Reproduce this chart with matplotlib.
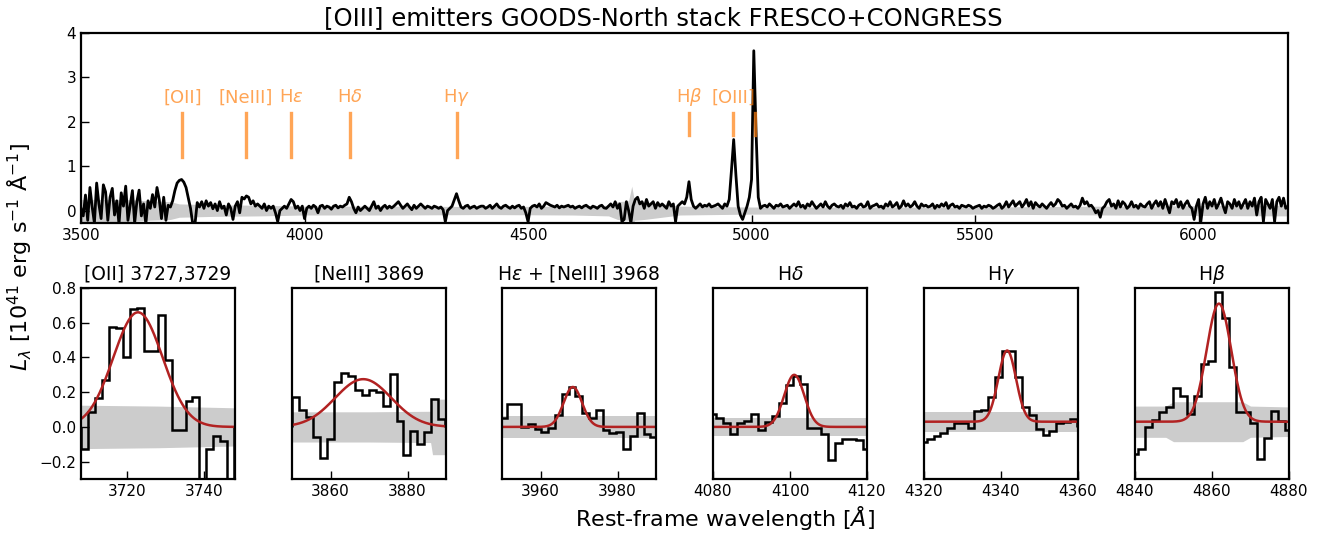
import numpy as np
import matplotlib.pyplot as plt
from matplotlib.ticker import MultipleLocator

# ---- full stacked spectrum (rest frame, 5 A sampling) ----
top_wave = np.arange(3500, 6201, 5)
top_flux = [
    0.05, -0.12, 0.35, -0.22, 0.52, 0.08, -0.28, 0.62, 0.15, -0.18, 0.58, 0.42, -0.22, 0.30, 0.50, -0.10, 0.22, -0.30, 0.40, 0.10,
    0.55, -0.22, 0.12, 0.45, -0.28, 0.20, 0.46, -0.12, 0.15, -0.30, 0.22, 0.05, 0.36, 0.08, 0.52, 0.25, -0.18, 0.30, -0.22, 0.12,
    0.08, 0.22, 0.45, 0.62, 0.68, 0.70, 0.64, 0.52, 0.28, 0.05, -0.30, -0.30, 0.18, 0.08, 0.20, 0.05, 0.22, 0.10, 0.18, 0.04,
    0.15, 0.00, 0.20, 0.05, 0.10, -0.10, 0.15, 0.05, -0.20, 0.10, 0.20, -0.05, 0.30, 0.26, 0.33, 0.30, 0.15, 0.22, 0.10, 0.15,
    0.10, 0.05, 0.15, 0.00, 0.10, 0.05, 0.10, -0.05, -0.25, 0.00, 0.05, 0.10, 0.05, 0.15, 0.25, 0.20, 0.05, 0.10, 0.00, 0.10,
    -0.18, 0.05, 0.10, 0.05, 0.12, 0.08, -0.05, 0.10, 0.12, 0.05, 0.10, 0.08, 0.03, 0.10, 0.12, 0.06, 0.10, 0.08, 0.12, 0.15,
    0.30, 0.20, 0.05, -0.05, 0.08, 0.00, 0.05, 0.10, 0.05, 0.00, 0.10, 0.20, 0.05, 0.10, 0.00, 0.08, 0.12, 0.05, 0.10, 0.06,
    0.10, 0.15, 0.20, 0.12, 0.05, 0.10, 0.15, 0.08, 0.02, 0.12, 0.05, 0.10, 0.15, 0.10, 0.05, 0.10, 0.08, 0.05, 0.10, 0.08,
    0.05, 0.08, 0.02, -0.25, 0.00, 0.05, 0.10, 0.24, 0.38, 0.22, 0.08, 0.05, 0.10, 0.12, 0.05, 0.08, 0.10, 0.05, 0.08, 0.10,
    0.10, 0.05, 0.08, 0.12, 0.05, 0.10, 0.15, 0.08, 0.05, 0.10, 0.12, 0.08, 0.05, 0.10, 0.06, 0.10, 0.12, 0.05, 0.08, -0.05,
    -0.25, 0.05, 0.10, 0.12, 0.08, 0.15, 0.05, 0.10, 0.18, 0.15, 0.12, 0.10, 0.08, 0.12, 0.06, 0.10, 0.08, 0.10, 0.12, 0.08,
    0.10, 0.05, 0.08, 0.10, 0.06, 0.10, 0.12, 0.08, 0.05, 0.10, 0.08, 0.05, 0.10, 0.12, 0.06, 0.05, 0.10, 0.15, 0.08, 0.20,
    0.05, 0.15, -0.25, -0.20, 0.20, 0.00, -0.28, 0.10, 0.25, 0.30, 0.15, 0.20, 0.05, 0.25, 0.10, 0.15, 0.20, 0.05, 0.18, 0.10,
    0.15, 0.10, 0.05, 0.20, 0.10, 0.15, -0.25, 0.10, 0.15, 0.20, 0.15, 0.30, 0.65, 0.25, 0.10, 0.05, 0.10, 0.15, 0.08, 0.12,
    0.10, 0.15, 0.08, 0.10, 0.12, 0.15, 0.10, 0.05, 0.15, 0.10, 0.25, 0.90, 1.60, 0.80, 0.10, -0.10, -0.20, -0.05, 0.10, 0.30,
    0.70, 3.60, 1.80, 0.30, 0.05, 0.10, 0.12, 0.08, 0.15, 0.10, 0.05, 0.12, 0.10, 0.15, 0.08, 0.10, 0.12, 0.05, 0.10, 0.15,
    0.10, 0.20, 0.08, 0.12, 0.05, 0.15, 0.10, 0.20, 0.12, 0.05, 0.10, 0.15, 0.08, 0.20, 0.10, 0.05, 0.12, 0.15, 0.10, 0.08,
    0.12, 0.05, 0.15, 0.10, 0.18, 0.08, 0.10, 0.05, 0.12, 0.15, 0.08, 0.10, 0.20, 0.05, 0.10, 0.12, 0.15, 0.08, 0.10, 0.05,
    0.15, 0.10, 0.20, 0.08, 0.12, 0.18, 0.05, 0.10, 0.22, 0.10, 0.15, 0.08, 0.12, 0.20, 0.10, 0.05, 0.15, 0.10, 0.12, 0.08,
    0.10, 0.15, 0.05, 0.12, 0.08, 0.15, 0.10, 0.18, 0.05, 0.12, 0.15, 0.08, 0.10, 0.05, 0.12, 0.10, 0.08, 0.12, 0.10, 0.05,
    0.08, 0.10, 0.12, 0.05, 0.10, 0.08, 0.12, 0.10, 0.05, 0.08, 0.12, 0.15, 0.05, 0.10, 0.20, 0.08, 0.15, 0.22, 0.10, 0.15,
    0.20, 0.08, 0.15, 0.25, 0.10, 0.20, 0.05, 0.18, 0.12, 0.08, 0.15, 0.10, 0.05, 0.12, 0.18, 0.10, 0.15, 0.25, 0.20, 0.10,
    0.12, 0.05, 0.10, 0.15, 0.08, 0.10, 0.05, 0.12, 0.28, 0.15, 0.20, 0.10, 0.12, 0.05, -0.05, 0.00, -0.15, 0.05, 0.10, 0.20,
    0.25, 0.10, 0.15, 0.05, 0.22, 0.08, 0.20, 0.15, 0.05, 0.10, 0.20, 0.08, 0.12, 0.05, 0.15, 0.10, 0.08, 0.15, 0.20, 0.05,
    0.15, 0.22, 0.10, 0.20, 0.05, 0.25, 0.10, -0.05, 0.20, 0.15, 0.25, 0.08, 0.20, 0.05, 0.15, 0.22, 0.10, 0.05, -0.20, 0.10,
    0.25, -0.25, 0.15, 0.30, 0.05, 0.20, 0.10, 0.25, 0.05, 0.15, 0.28, 0.10, -0.05, 0.20, 0.15, 0.05, 0.25, 0.10, 0.20, 0.05,
    0.15, 0.25, 0.05, 0.20, 0.10, 0.28, -0.10, 0.20, 0.30, -0.25, 0.25, 0.15, 0.05, 0.25, -0.25, 0.20, 0.30, 0.10, 0.28, 0.05,
    0.10,
]

# 1-sigma uncertainty of the stack
err_wave = [3500, 3550, 3600, 3650, 3700, 3720, 3800, 3900, 4000, 4200, 4400, 4600, 4680, 4700,
            4725, 4732, 4738, 4760, 4800, 4840, 5000, 5500, 5800, 6200]
err_top = [0.25, 0.25, 0.25, 0.22, 0.20, 0.15, 0.13, 0.12, 0.10, 0.10, 0.09, 0.10, 0.12, 0.20,
           0.22, 0.55, 0.22, 0.20, 0.15, 0.10, 0.08, 0.08, 0.10, 0.12]

# line markers
line_names = ['[OII]', '[NeIII]', r'H$\epsilon$', r'H$\delta$', r'H$\gamma$', r'H$\beta$', '[OIII]', '']
line_waves = [3727, 3869, 3970, 4102, 4340, 4861, 4959, 5007]
line_low = [1.2, 1.2, 1.2, 1.2, 1.2, 1.7, 1.7, 1.7]

# ---- zoom panels ----
panel_titles = ['[OII] 3727,3729', '[NeIII] 3869', r'H$\epsilon$ + [NeIII] 3968',
                r'H$\delta$', r'H$\gamma$', r'H$\beta$']
panel_xlim = [(3708, 3748), (3850, 3890), (3950, 3990), (4080, 4120), (4320, 4360), (4840, 4880)]
bin_start = [3708.0, 3850.0, 3949.6, 4079.05, 4318.93, 4839.06]
bin_width = [1.81, 1.81, 1.77, 1.81, 1.77, 1.81]
panel_flux = [
    [-0.125, 0.083, 0.166, 0.27, 0.575, 0.57, 0.40, 0.68, 0.685, 0.44, 0.44, 0.646, 0.386,
     -0.02, -0.02, 0.15, 0.17, -0.35, -0.125, -0.05, -0.08, -0.35],
    [0.174, 0.10, 0.058, -0.058, -0.18, -0.07, 0.256, 0.31, 0.295, 0.212, 0.183, 0.212, 0.20,
     0.12, 0.303, 0.035, -0.16, -0.023, -0.096, -0.03, 0.158, 0.044],
    [0.05, 0.13, 0.13, 0.0, 0.015, -0.01, -0.03, -0.005, 0.07, 0.19, 0.23, 0.18, 0.08, 0.05,
     0.10, -0.02, -0.033, -0.03, -0.13, -0.05, 0.08, -0.04, -0.06],
    [0.075, 0.05, 0.02, -0.04, 0.02, 0.035, 0.075, -0.015, 0.03, 0.06, 0.14, 0.24, 0.295, 0.25,
     -0.005, -0.005, -0.04, -0.19, -0.09, -0.07, -0.07, -0.075, -0.13],
    [-0.087, -0.067, -0.052, -0.035, -0.006, 0.025, 0.02, -0.004, 0.093, 0.10, 0.173, 0.29,
     0.437, 0.437, 0.29, 0.112, 0.067, -0.01, -0.048, -0.023, 0.023, 0.029, 0.044],
    [-0.155, -0.125, 0.0, 0.042, 0.087, 0.116, 0.226, 0.18, 0.077, 0.18, 0.36, 0.38, 0.775,
     0.627, 0.347, 0.083, 0.083, 0.02, -0.183, -0.062, 0.09, 0.035, -0.02],
]
# gaussian fits: amplitude, centre, sigma, continuum
fit_amp = [0.66, 0.275, 0.23, 0.30, 0.41, 0.68]
fit_cen = [3722.8, 3868.5, 3968.4, 4101.1, 4341.6, 4861.8]
fit_sig = [6.4, 7.3, 2.4, 2.6, 2.3, 3.2]
fit_cont = [0.0, 0.0, 0.0, 0.0, 0.03, 0.03]
# uncertainty bands
band_wave = [
    [3708, 3728, 3748],
    [3850, 3870, 3886, 3886.5, 3890],
    [3950, 3970, 3990],
    [4080, 4100, 4120],
    [4320, 4340, 4360],
    [4840, 4848, 4850, 4868, 4870, 4880],
]
band_err = [
    [0.125, 0.12, 0.11],
    [0.087, 0.087, 0.09, 0.16, 0.16],
    [0.065, 0.065, 0.065],
    [0.054, 0.054, 0.054],
    [0.057, 0.057, 0.057],
    [0.09, 0.09, 0.115, 0.115, 0.09, 0.085],
]

W, H = 1332, 533
fig = plt.figure(figsize=(W / 100, H / 100), dpi=100)

def frac(x0, y0, x1, y1):
    return [x0 / W, 1 - y1 / H, (x1 - x0) / W, (y1 - y0) / H]

def style(ax):
    ax.tick_params(direction='in', length=6, width=1.0, labelsize=11)
    for s in ax.spines.values():
        s.set_linewidth(1.6)

orange = 'tab:orange'

# top panel
ax = fig.add_axes(frac(81, 33, 1288, 223))
ax.fill_between(err_wave, -np.array(err_top), err_top, color='0.8', lw=0)
ax.plot(top_wave, top_flux, color='k', lw=2)
for name, wl, lo in zip(line_names, line_waves, line_low):
    ax.plot([wl, wl], [lo, 2.2], color=orange, alpha=0.7, lw=2.4, zorder=5)
    if name:
        ax.text(wl, 2.55, name, color=orange, alpha=0.7, fontsize=13, ha='center', va='center')
ax.set_xlim(3500, 6200)
ax.set_ylim(-0.28, 4)
ax.xaxis.set_major_locator(MultipleLocator(500))
ax.yaxis.set_major_locator(MultipleLocator(1))
style(ax)

# zoom panels
lefts = [81, 292, 502, 713, 924, 1135]
for i, x0 in enumerate(lefts):
    ax = fig.add_axes(frac(x0, 288, x0 + 154, 479))
    c = fit_cont[i]
    bw = np.array(band_wave[i])
    be = np.array(band_err[i])
    ax.fill_between(bw, c - be, c + be, color='0.8', lw=0)
    vals = panel_flux[i]
    edges = bin_start[i] + bin_width[i] * np.arange(len(vals) + 1)
    ax.stairs(vals, edges, color='k', lw=1.8)
    xf = np.linspace(panel_xlim[i][0], panel_xlim[i][1], 400)
    ax.plot(xf, c + fit_amp[i] * np.exp(-0.5 * ((xf - fit_cen[i]) / fit_sig[i]) ** 2),
            color='#b22222', lw=1.8)
    ax.set_xlim(*panel_xlim[i])
    ax.set_ylim(-0.3, 0.8)
    ax.xaxis.set_major_locator(MultipleLocator(20))
    ax.set_title(panel_titles[i], fontsize=13.5, pad=6)
    style(ax)
    if i == 0:
        ax.yaxis.set_major_locator(MultipleLocator(0.2))
    else:
        ax.tick_params(left=False, labelleft=False)

fig.text(663 / W, 1 - 18 / H, '[OIII] emitters GOODS-North stack FRESCO+CONGRESS',
         fontsize=17.5, ha='center', va='center')
fig.text(725 / W, 1 - 518 / H, r'Rest-frame wavelength [$\AA$]', fontsize=16, ha='center', va='center')
fig.text(20 / W, 1 - 257 / H, r'$L_\lambda$ [10$^{41}$ erg s$^{-1}$ Å$^{-1}$]', fontsize=16,
         rotation=90, ha='center', va='center')

fig.savefig('out.png', dpi=100)
